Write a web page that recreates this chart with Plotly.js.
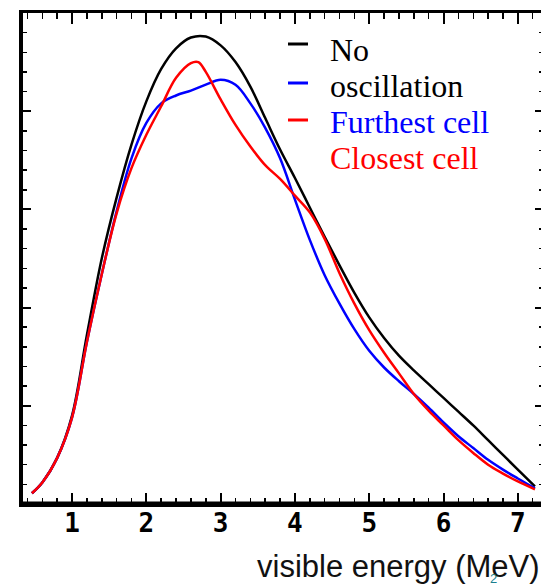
<!DOCTYPE html>
<html><head><meta charset="utf-8">
<script src="https://cdn.plot.ly/plotly-3.0.1.min.js"></script>
<style>html,body{margin:0;padding:0;background:#fff;overflow:hidden}#chart{width:543px;height:586px}</style>
</head><body><div id="chart"></div>
<script>
// visible energy grid (MeV)
const energyGrid = [0.46,0.6,0.8,1.0,1.2,1.4,1.6,1.8,2.0,2.2,2.4,2.6,2.8,3.0,3.2,3.4,3.6,3.8,4.0,4.2,4.4,4.6,4.8,5.0,5.2,5.4,5.6,5.8,6.0,6.2,6.4,6.6,6.8,7.0,7.23];
const noOscillation = [0.11,0.22,0.47,0.90,1.72,2.50,3.12,3.66,4.10,4.43,4.64,4.75,4.76,4.67,4.50,4.25,3.93,3.61,3.32,3.02,2.72,2.43,2.15,1.90,1.69,1.51,1.36,1.22,1.08,0.94,0.80,0.65,0.50,0.35,0.18];
const furthestCell = [0.11,0.22,0.47,0.88,1.65,2.34,2.98,3.52,3.88,4.08,4.16,4.21,4.27,4.32,4.27,4.08,3.83,3.52,3.10,2.69,2.33,2.04,1.78,1.56,1.39,1.25,1.12,0.98,0.83,0.69,0.57,0.45,0.35,0.26,0.16];
const closestEnergy = [0.46,0.6,0.8,1.0,1.2,1.4,1.6,1.8,2.0,2.2,2.4,2.6,2.7,2.8,3.0,3.2,3.4,3.6,3.8,4.0,4.2,4.4,4.6,4.8,5.0,5.2,5.4,5.6,5.8,6.0,6.2,6.4,6.6,6.8,7.0,7.23];
const closestCell = [0.11,0.22,0.47,0.88,1.65,2.34,2.96,3.42,3.76,4.05,4.34,4.49,4.50,4.40,4.12,3.86,3.64,3.45,3.31,3.14,2.97,2.70,2.35,2.04,1.77,1.54,1.33,1.12,0.95,0.80,0.65,0.52,0.40,0.31,0.23,0.15];

const xTickValues = [1,2,3,4,5,6,7];
const xTickLabels = ['1','2','3','4','5','6','7'];
const legendTexts = ['No','oscillation','Furthest cell','Closest cell'];
const legendTextColors = ['#000000','#000000','#0000ff','#ff0000'];
const legendLineColors = ['#000000','#0000ff','#ff0000'];
const xTitle = 'visible energy (MeV)';
const pageNumber = '2';

// plot-area geometry helpers (layout only)
const W = 543, H = 586;
const PL = 23, PT = 13, PW = 520, PH = 491;
const fx = px => (px - PL) / PW;
const fy = py => (PT + PH - py) / PH;

const traces = [
  {x: energyGrid, y: noOscillation, name: 'No oscillation', mode: 'lines',
   line: {color: '#000000', width: 2.5, shape: 'spline', smoothing: 1}},
  {x: energyGrid, y: furthestCell, name: 'Furthest cell', mode: 'lines',
   line: {color: '#0000ff', width: 2.5, shape: 'spline', smoothing: 1}},
  {x: closestEnergy, y: closestCell, name: 'Closest cell', mode: 'lines',
   line: {color: '#ff0000', width: 2.5, shape: 'spline', smoothing: 1}}
];

const annotations = [];
const legendTextY = [50, 86, 122, 158];
legendTexts.forEach((t, i) => {
  annotations.push({text: t, xref: 'paper', yref: 'paper', x: fx(328), y: fy(legendTextY[i]),
    xanchor: 'left', yanchor: 'middle', showarrow: false,
    font: {family: 'Liberation Serif', size: 32, color: legendTextColors[i]}});
});
annotations.push({text: xTitle, xref: 'paper', yref: 'paper', x: fx(398), y: fy(566),
  xanchor: 'center', yanchor: 'middle', showarrow: false,
  font: {family: 'Liberation Sans', size: 31, color: '#111111'}});
annotations.push({text: pageNumber, xref: 'paper', yref: 'paper', x: fx(493), y: fy(578),
  xanchor: 'center', yanchor: 'middle', showarrow: false,
  font: {family: 'Liberation Sans', size: 13, color: '#1b7f8f'}});

const legendLineY = [44, 83, 120];
const shapes = legendLineColors.map((c, i) => ({
  type: 'line', xref: 'paper', yref: 'paper',
  x0: fx(288), x1: fx(308), y0: fy(legendLineY[i]), y1: fy(legendLineY[i]),
  line: {color: c, width: 3}
}));
// heavier bottom frame line
shapes.push({type: 'line', xref: 'paper', yref: 'paper', x0: 0, x1: 1, y0: 0, y1: 0,
  line: {color: '#000', width: 5}, layer: 'above'});

const xRange = [0.34, 0.34 + PW / 74.3];
const yRange = [0, 5];

const layout = {
  width: W, height: H,
  margin: {l: PL, r: W - PL - PW, t: PT, b: H - PT - PH, pad: 0},
  paper_bgcolor: '#ffffff', plot_bgcolor: '#ffffff',
  showlegend: false,
  xaxis: {range: xRange, showgrid: false, zeroline: false,
    showline: true, linewidth: 3, linecolor: '#000', mirror: 'ticks',
    ticks: 'inside', tickvals: xTickValues, ticktext: xTickLabels,
    ticklen: 11, tickwidth: 2, tickcolor: '#000',
    minor: {ticks: 'inside', dtick: 0.2, tick0: 0, ticklen: 6, tickwidth: 1.5, tickcolor: '#000', showgrid: false},
    ticklabelstandoff: -6,
    tickfont: {family: 'DejaVu Sans Mono', size: 26, weight: 'bold', color: '#000'}},
  yaxis: {range: yRange, showgrid: false, zeroline: false,
    showline: true, linewidth: 4, linecolor: '#000', mirror: 'ticks',
    ticks: 'inside', dtick: 1, tick0: 0, ticklen: 8, tickwidth: 2, tickcolor: '#000',
    minor: {ticks: 'inside', dtick: 0.2, tick0: 0, ticklen: 4, tickwidth: 1.5, tickcolor: '#000', showgrid: false},
    showticklabels: false},
  annotations: annotations,
  shapes: shapes
};

Plotly.newPlot('chart', traces, layout, {staticPlot: true, displayModeBar: false});
</script>
</body></html>
